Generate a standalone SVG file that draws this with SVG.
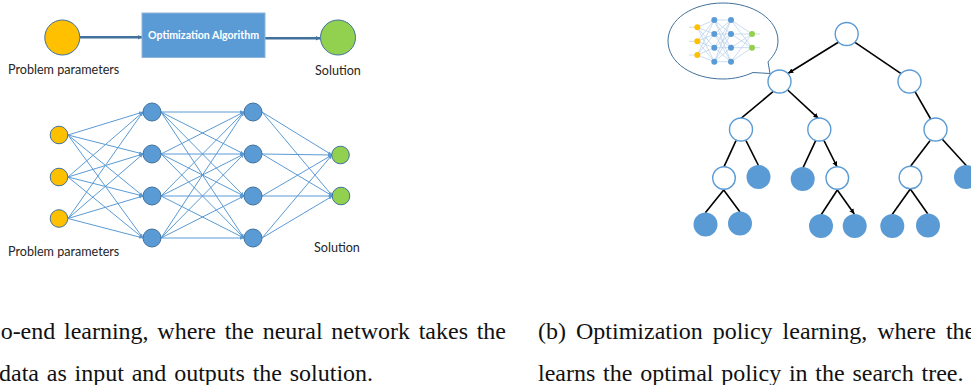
<svg xmlns="http://www.w3.org/2000/svg" width="971" height="385" viewBox="0 0 971 385">
<style>
.sans{font-family:Lato,"Open Sans","Liberation Sans",sans-serif;font-size:12.600px;fill:#262626}
.cap{font-family:"Liberation Serif","Times New Roman",serif;font-size:24px;fill:#111}
.thick{stroke:#41719C;stroke-width:2.4;fill:none}
.nn line{stroke:#5B9BD5;stroke-width:1;marker-end:url(#sa)}
.y{fill:#FFC000;stroke:#41719C;stroke-width:1}
.b{fill:#5B9BD5;stroke:#41719C;stroke-width:1}
.g{fill:#92D050;stroke:#41719C;stroke-width:1}
.w{fill:#fff;stroke:#5B9BD5;stroke-width:1.4}
.f{fill:#5B9BD5}
.t line{stroke:#000;stroke-width:1.6}
.mini{stroke:#B4CEE8;stroke-width:.7;fill:none}
.my{fill:#FFC000}.mb{fill:#5B9BD5}.mg{fill:#92D050}
</style>
<defs>
<marker id="sa" markerWidth="5" markerHeight="4" refX="4" refY="2" orient="auto" markerUnits="userSpaceOnUse"><path d="M0 0.300L4 2L0 3.700z" fill="#5B9BD5"/></marker>
<marker id="ta" markerWidth="6" markerHeight="6" refX="5" refY="3" orient="auto" markerUnits="userSpaceOnUse"><path d="M0 0.500L5 3L0 5.500z" fill="#000"/></marker>
<marker id="ba" markerWidth="5" markerHeight="6" refX="4" refY="3" orient="auto" markerUnits="userSpaceOnUse"><path d="M0 0.800L4 3L0 5.200z" fill="#41719C"/></marker>
</defs>

<g id="connectors">
<g id="top-connectors">
<line class="thick" x1="80" y1="37.300" x2="142" y2="37.300" marker-end="url(#ba)"/>
<line class="thick" x1="265" y1="38.300" x2="320" y2="38.300" marker-end="url(#ba)"/>
</g>
<g id="nn-connectors" class="nn">
<line x1="68" y1="135" x2="143" y2="112"/><line x1="68" y1="135" x2="143" y2="154"/><line x1="68" y1="135" x2="143" y2="196"/><line x1="68" y1="135" x2="143" y2="238"/>
<line x1="68" y1="177" x2="143" y2="112"/><line x1="68" y1="177" x2="143" y2="154"/><line x1="68" y1="177" x2="143" y2="196"/><line x1="68" y1="177" x2="143" y2="238"/>
<line x1="68" y1="218.500" x2="143" y2="112"/><line x1="68" y1="218.500" x2="143" y2="154"/><line x1="68" y1="218.500" x2="143" y2="196"/><line x1="68" y1="218.500" x2="143" y2="238"/>
<line x1="161" y1="112" x2="244" y2="112"/><line x1="161" y1="112" x2="244" y2="154"/><line x1="161" y1="112" x2="244" y2="196"/><line x1="161" y1="112" x2="244" y2="238"/>
<line x1="161" y1="154" x2="244" y2="112"/><line x1="161" y1="154" x2="244" y2="154"/><line x1="161" y1="154" x2="244" y2="196"/><line x1="161" y1="154" x2="244" y2="238"/>
<line x1="161" y1="196" x2="244" y2="112"/><line x1="161" y1="196" x2="244" y2="154"/><line x1="161" y1="196" x2="244" y2="196"/><line x1="161" y1="196" x2="244" y2="238"/>
<line x1="161" y1="238" x2="244" y2="112"/><line x1="161" y1="238" x2="244" y2="154"/><line x1="161" y1="238" x2="244" y2="196"/><line x1="161" y1="238" x2="244" y2="238"/>
<line x1="262" y1="112" x2="332" y2="155"/><line x1="262" y1="112" x2="332.500" y2="196"/>
<line x1="262" y1="154" x2="332" y2="155"/><line x1="262" y1="154" x2="332.500" y2="196"/>
<line x1="262" y1="196" x2="332" y2="155"/><line x1="262" y1="196" x2="332.500" y2="196"/>
<line x1="262" y1="238" x2="332" y2="155"/><line x1="262" y1="238" x2="332.500" y2="196"/>
</g>
<g id="tree-connectors" class="t">
<line x1="838.300" y1="42.300" x2="788.300" y2="73.300" marker-end="url(#ta)"/>
<line x1="855" y1="42.300" x2="900.700" y2="73.300"/>
<line x1="773" y1="91.700" x2="741" y2="118.300"/>
<line x1="787.700" y1="90" x2="818.300" y2="118.300" marker-end="url(#ta)"/>
<line x1="915" y1="91.700" x2="930.700" y2="119"/>
<line x1="736" y1="140.700" x2="723.700" y2="167.300"/>
<line x1="746" y1="140.700" x2="758.700" y2="166"/>
<line x1="815.700" y1="140.700" x2="802.700" y2="168.300"/>
<line x1="824" y1="140.700" x2="837" y2="166.700" marker-end="url(#ta)"/>
<line x1="930" y1="140.700" x2="910.700" y2="166"/>
<line x1="942.300" y1="139.300" x2="966.700" y2="166"/>
<line x1="723.700" y1="190" x2="705.300" y2="212.700"/>
<line x1="723.700" y1="190" x2="740" y2="212"/>
<line x1="837.300" y1="190" x2="821" y2="215"/>
<line x1="837.300" y1="190" x2="854.300" y2="214" marker-end="url(#ta)"/>
<line x1="910.300" y1="189" x2="892.300" y2="214.300"/>
<line x1="910.300" y1="189" x2="927.700" y2="213.700"/>
</g>
</g>

<g id="top-input"><circle class="y" cx="62.300" cy="37.500" r="17.500"/><text class="sans" x="8" y="74">Problem parameters</text></g>
<g id="optimization-algorithm"><rect x="142" y="13" width="123" height="44.500" fill="#5B9BD5" stroke="#8FB4DC" stroke-width="1"/><text x="148" y="39" font-family="Lato,'Open Sans','Liberation Sans',sans-serif" font-size="10.600" font-weight="700" fill="#fff">Optimization Algorithm</text></g>
<g id="top-solution"><circle class="g" cx="338" cy="37.500" r="17.500"/><text class="sans" x="315" y="75">Solution</text></g>

<g id="nn-inputs"><circle class="y" cx="59" cy="135" r="8.800"/><circle class="y" cx="59" cy="177" r="8.800"/><circle class="y" cx="59" cy="218.500" r="8.800"/></g>
<g id="nn-hidden-1"><circle class="b" cx="152" cy="112" r="9"/><circle class="b" cx="152" cy="154" r="9"/><circle class="b" cx="152" cy="196" r="9"/><circle class="b" cx="152" cy="238" r="9"/></g>
<g id="nn-hidden-2"><circle class="b" cx="253" cy="112" r="9"/><circle class="b" cx="253" cy="154" r="9"/><circle class="b" cx="253" cy="196" r="9"/><circle class="b" cx="253" cy="238" r="9"/></g>
<g id="nn-outputs"><circle class="g" cx="340.500" cy="155" r="8.800"/><circle class="g" cx="341" cy="196" r="8.800"/></g>
<g id="nn-input-label"><text class="sans" x="8" y="256">Problem parameters</text></g>
<g id="nn-output-label"><text class="sans" x="314" y="251.500">Solution</text></g>

<g id="callout">
<path d="M768 62C771 58 778 52 778 41C778 19 753 3 723 3C693 3 668 19 668 41C668 63 693 79 723 79C735 79 745 76 753 72.500L770 73.500Z" fill="#fff" stroke="#41719C" stroke-width="1"/>
<path class="mini" d="M689 27.300H697.300M689 41.300H697.300M689 55H697.300M752 34H760M752 47.700H760M714.300 20H731M714.300 34H731M714.300 47.700H731M714.300 61.700H731M697.300 27.300L714.300 20M697.300 27.300L714.300 34M697.300 27.300L714.300 47.700M697.300 27.300L714.300 61.700M697.300 41.300L714.300 20M697.300 41.300L714.300 34M697.300 41.300L714.300 47.700M697.300 41.300L714.300 61.700M697.300 55L714.300 20M697.300 55L714.300 34M697.300 55L714.300 47.700M697.300 55L714.300 61.700M714.300 20L731 34M714.300 20L731 47.700M714.300 20L731 61.700M714.300 34L731 20M714.300 34L731 47.700M714.300 34L731 61.700M714.300 47.700L731 20M714.300 47.700L731 34M714.300 47.700L731 61.700M714.300 61.700L731 20M714.300 61.700L731 34M714.300 61.700L731 47.700M731 20L752 34M731 20L752 47.700M731 34L752 34M731 34L752 47.700M731 47.700L752 34M731 47.700L752 47.700M731 61.700L752 34M731 61.700L752 47.700"/>
<circle class="my" cx="697.300" cy="27.300" r="3"/><circle class="my" cx="697.300" cy="41.300" r="3"/><circle class="my" cx="697.300" cy="55" r="3"/>
<circle class="mb" cx="714.300" cy="20" r="3"/><circle class="mb" cx="714.300" cy="34" r="3"/><circle class="mb" cx="714.300" cy="47.700" r="3"/><circle class="mb" cx="714.300" cy="61.700" r="3"/>
<circle class="mb" cx="731" cy="20" r="3"/><circle class="mb" cx="731" cy="34" r="3"/><circle class="mb" cx="731" cy="47.700" r="3"/><circle class="mb" cx="731" cy="61.700" r="3"/>
<circle class="mg" cx="752" cy="34" r="3"/><circle class="mg" cx="752" cy="47.700" r="3"/>
</g>

<g id="tree-n1"><circle class="w" cx="846.700" cy="34" r="11.500"/></g>
<g id="tree-n2"><circle class="w" cx="779.500" cy="81.500" r="11.500"/></g>
<g id="tree-n3"><circle class="w" cx="909.500" cy="81.500" r="11.500"/></g>
<g id="tree-n4"><circle class="w" cx="741" cy="129.500" r="11.500"/></g>
<g id="tree-n5"><circle class="w" cx="819.300" cy="129.500" r="11.500"/></g>
<g id="tree-n6"><circle class="w" cx="935.500" cy="129.500" r="11.500"/></g>
<g id="tree-n7"><circle class="w" cx="724" cy="178" r="11.300"/></g>
<g id="tree-n8"><circle class="f" cx="758.500" cy="177" r="12"/></g>
<g id="tree-n9"><circle class="f" cx="802.700" cy="179" r="12"/></g>
<g id="tree-n10"><circle class="w" cx="837.300" cy="178" r="11.300"/></g>
<g id="tree-n11"><circle class="w" cx="910.500" cy="177.500" r="11.300"/></g>
<g id="tree-n12"><circle class="f" cx="966" cy="177" r="12"/></g>
<g id="tree-n13"><circle class="f" cx="705.500" cy="224.500" r="12"/></g>
<g id="tree-n14"><circle class="f" cx="740" cy="223.500" r="12"/></g>
<g id="tree-n15"><circle class="f" cx="821" cy="226" r="12"/></g>
<g id="tree-n16"><circle class="f" cx="854.700" cy="226" r="12"/></g>
<g id="tree-n17"><circle class="f" cx="892.300" cy="226" r="12"/></g>
<g id="tree-n18"><circle class="f" cx="928" cy="225.500" r="12"/></g>

<g id="captions">
<text class="cap" x="506" y="339" text-anchor="end" word-spacing="2.700">o-end learning, where the neural network takes the</text>
<text class="cap" x="-1" y="380.500" word-spacing="1.800">data as input and outputs the solution.</text>
<text class="cap" x="538" y="339" word-spacing="4">(b) Optimization policy learning, where the</text>
<text class="cap" x="538" y="380.500" word-spacing="1.750">learns the optimal policy in the search tree.</text>
</g>
</svg>
